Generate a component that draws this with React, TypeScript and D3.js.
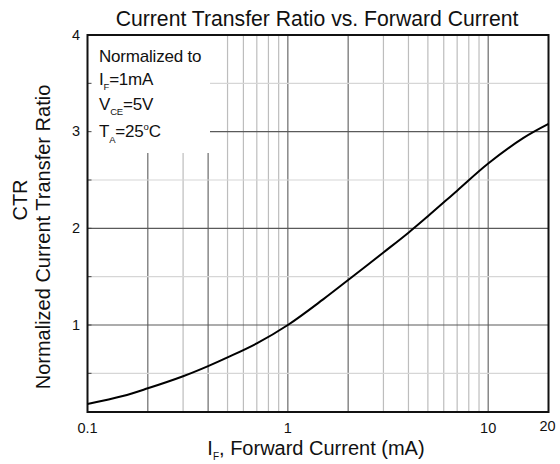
import React from 'react';
import * as d3 from 'd3';

// Forward current (mA) and normalized CTR
const IF_MA = [0.1, 0.15, 0.2, 0.3, 0.4, 0.5, 0.7, 1, 1.5, 2, 3, 4, 5, 7, 10, 15, 20];
const CTR_NORM = [0.183, 0.265, 0.345, 0.47, 0.575, 0.665, 0.81, 1.0, 1.265, 1.465, 1.75, 1.955, 2.125, 2.39, 2.67, 2.935, 3.08];

const X_TICKS = [0.1, 1, 10, 20];
const X_TICK_LABELS = ['0.1', '1', '10', '20'];
const Y_TICKS = [1, 2, 3, 4];
const Y_TICK_LABELS = ['1', '2', '3', '4'];
const X_GRID = [0.2, 0.3, 0.4, 0.5, 0.6, 0.7, 0.8, 0.9, 1, 2, 3, 4, 5, 6, 7, 8, 9, 10];
const X_GRID_MAJOR = [0.2, 0.4, 1, 2, 10];
const Y_GRID = [0.5, 1, 1.5, 2, 2.5, 3, 3.5];

const TITLE = 'Current Transfer Ratio vs. Forward Current';
const Y_LABEL_1 = 'CTR';
const Y_LABEL_2 = 'Normalized Current Transfer Ratio';

const FONT = "'Liberation Sans', Arial, Helvetica, sans-serif";

export default function App() {
  const left = 87.5, right = 548.5, top = 35, bottom = 412;
  const x = d3.scaleLog().domain([0.1, 20]).range([left, right]);
  const y = d3.scaleLinear().domain([0.1, 4]).range([bottom, top]);

  // legend (blank) box
  const boxR = 210, boxB = 153;

  const data = IF_MA.map((v, i) => ({ i: v, c: CTR_NORM[i] }));
  const line = d3
    .line<{ i: number; c: number }>()
    .x((d) => x(d.i))
    .y((d) => y(d.c))
    .curve(d3.curveCatmullRom.alpha(0.5));

  return (
    <svg
      width={560}
      height={464}
      style={{ position: 'absolute', left: 0, top: 0, background: '#fff' }}
      fontFamily={FONT}
    >
      <rect x={0} y={0} width={560} height={464} fill="#fff" />
      {/* vertical grid */}
      {X_GRID.map((g) => {
        const px = x(g);
        const y0 = px < boxR ? boxB : top;
        const major = X_GRID_MAJOR.includes(g);
        return (
          <line
            key={'xg' + g}
            x1={px}
            x2={px}
            y1={y0}
            y2={bottom}
            stroke={major ? '#6a6a6a' : '#bdbdbd'}
            strokeWidth={1.2}
          />
        );
      })}
      {/* horizontal grid */}
      {Y_GRID.map((g) => {
        const py = y(g);
        const x0 = py < boxB ? boxR : left;
        const major = Number.isInteger(g);
        return (
          <line
            key={'yg' + g}
            x1={x0}
            x2={right}
            y1={py}
            y2={py}
            stroke={major ? '#5a5a5a' : '#d6d6d6'}
            strokeWidth={1.2}
          />
        );
      })}
      {/* small left ticks */}
      {Y_GRID.map((g) => (
        <line key={'yt' + g} x1={left} x2={left + 4} y1={y(g)} y2={y(g)} stroke="#444" strokeWidth={1} />
      ))}
      {/* frame */}
      <rect x={left} y={top} width={right - left} height={bottom - top} fill="none" stroke="#111" strokeWidth={2} />
      {/* curve */}
      <path d={line(data) || ''} fill="none" stroke="#000" strokeWidth={2} />

      {/* title */}
      <text x={317} y={26} textAnchor="middle" fontSize={21.2} fill="#111">
        {TITLE}
      </text>

      {/* y tick labels */}
      {Y_TICKS.map((t, i) => (
        <text key={'yl' + t} x={80} y={y(t) + 4.5} textAnchor="end" fontSize={14.5} fill="#111">
          {Y_TICK_LABELS[i]}
        </text>
      ))}
      {/* x tick labels */}
      {X_TICKS.map((t, i) => (
        <text
          key={'xl' + t}
          x={x(t) - (t === 20 ? 1 : 0)}
          y={t === 20 ? 431 : 433}
          textAnchor="middle"
          fontSize={14.5}
          fill="#111"
        >
          {X_TICK_LABELS[i]}
        </text>
      ))}

      {/* x axis label */}
      <text x={316} y={455} textAnchor="middle" fontSize={20} fill="#111">
        <tspan>I</tspan>
        <tspan fontSize={10} dy={5}>F</tspan>
        <tspan dy={-5}>, Forward Current (mA)</tspan>
      </text>

      {/* y axis labels */}
      <text transform="translate(27,200) rotate(-90)" textAnchor="middle" fontSize={20} fill="#111">
        {Y_LABEL_1}
      </text>
      <text transform="translate(50,237) rotate(-90)" textAnchor="middle" fontSize={20} fill="#111">
        {Y_LABEL_2}
      </text>

      {/* legend text */}
      <g fontSize={17} fill="#111" letterSpacing={-0.2}>
        <text x={99} y={62}>Normalized to</text>
        <text x={99} y={85}>
          <tspan>I</tspan>
          <tspan fontSize={9.5} dy={5}>F</tspan>
          <tspan dy={-5}>=1mA</tspan>
        </text>
        <text x={99} y={110}>
          <tspan>V</tspan>
          <tspan fontSize={9.5} dy={5}>CE</tspan>
          <tspan dy={-5}>=5V</tspan>
        </text>
        <text x={99} y={137}>
          <tspan>T</tspan>
          <tspan fontSize={9.5} dy={6}>A</tspan>
          <tspan dy={-6}>=25</tspan>
          <tspan fontSize={9.5} dy={-7}>o</tspan>
          <tspan dy={7}>C</tspan>
        </text>
      </g>
    </svg>
  );
}
